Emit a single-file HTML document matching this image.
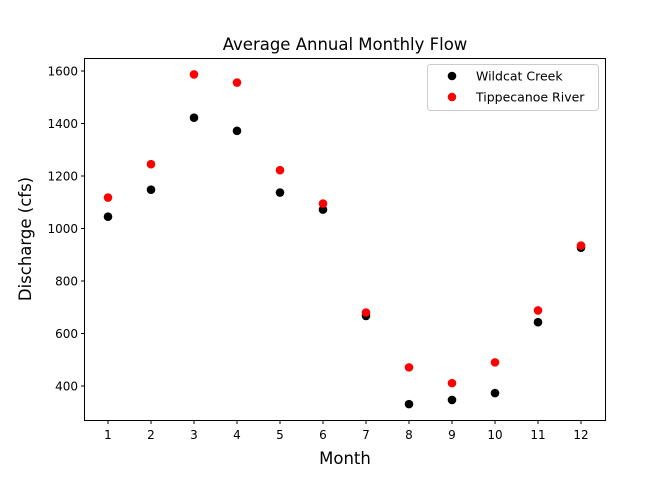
<!DOCTYPE html>
<html><head><meta charset="utf-8"><style>
body{margin:0;background:#fff;}
svg text{font-family:"DejaVu Sans","Liberation Sans",sans-serif;fill:#000;}
</style></head><body>
<svg id="chart" width="672" height="480">
<rect width="672" height="480" fill="#fff"/>
<text x="345" y="50" font-size="16.5" text-anchor="middle">Average Annual Monthly Flow</text>
<text x="345" y="464" font-size="16.5" text-anchor="middle">Month</text>
<text transform="translate(31,239) rotate(-90)" font-size="16.5" text-anchor="middle">Discharge (cfs)</text>
<g id="ticks"></g>
<g id="marks"></g>
<rect x="84.5" y="58.5" width="521" height="362" fill="none" stroke="#000" stroke-width="1"/>
<g>
<rect x="427.5" y="64.5" width="171" height="46" rx="3" fill="#fff" stroke="#ccc"/>
<circle cx="452" cy="76" r="4.3" fill="#000"/>
<text x="476" y="80.5" font-size="12.5">Wildcat Creek</text>
<circle cx="452" cy="97" r="4.3" fill="#f00"/>
<text x="476" y="101.5" font-size="12.5">Tippecanoe River</text>
</g>
</svg>
<script>
const months=[1,2,3,4,5,6,7,8,9,10,11,12];
const wildcat=[1045,1148,1422,1372,1137,1072,667,331,347,373,643,927];
const tippecanoe=[1118,1245,1587,1556,1222,1095,680,471,411,490,688,935];
const yTicks=[400,600,800,1000,1200,1400,1600];
const xTicks=[1,2,3,4,5,6,7,8,9,10,11,12];
function xs(m){return 108+(m-1)*43;}
function ys(v){return 386-(v-400)*0.2625;}
const NS="http://www.w3.org/2000/svg";
const tg=document.getElementById('ticks'),mg=document.getElementById('marks');
function mk(t,a,p){const e=document.createElementNS(NS,t);for(const k in a)e.setAttribute(k,a[k]);p.appendChild(e);return e;}
xTicks.forEach(t=>{const x=xs(t);
const l=mk('line',{x1:x,x2:x,y1:420.5,y2:424,stroke:'#000'},tg);


const tx=mk('text',{x:x,y:439,'font-size':12,'text-anchor':'middle'},tg);tx.textContent=t;

});
yTicks.forEach(t=>{const y=ys(t);
const l=mk('line',{x1:81,x2:84.5,y1:y,y2:y,stroke:'#000'},tg);


const tx=mk('text',{x:78,y:y+4.5,'font-size':12,'text-anchor':'end'},tg);tx.textContent=t;

});
months.forEach((m,i)=>{
const c=mk('circle',{cx:xs(m),cy:ys(wildcat[i]),r:4.3,fill:'#000'},mg);

});
months.forEach((m,i)=>{
const c=mk('circle',{cx:xs(m),cy:ys(tippecanoe[i]),r:4.3,fill:'#f00'},mg);

});
</script>
</body></html>
